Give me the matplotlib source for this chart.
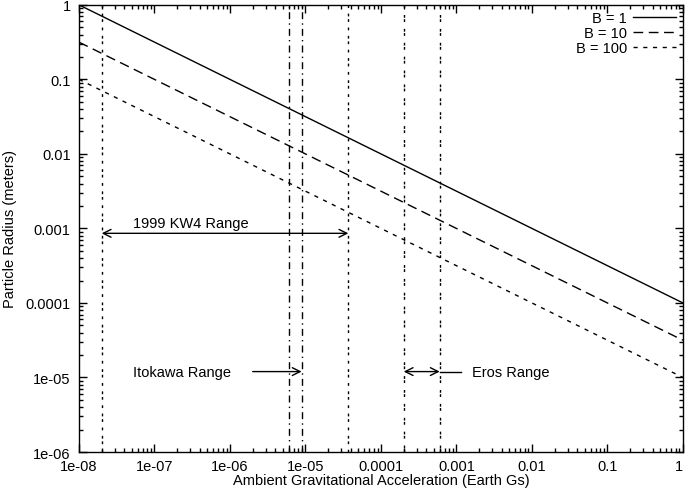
import numpy as np
import matplotlib
matplotlib.use("Agg")
import matplotlib.pyplot as plt
from matplotlib.ticker import LogLocator, FixedLocator

plt.rcParams['font.family'] = ['Liberation Sans', 'DejaVu Sans']
plt.rcParams['font.size'] = 10.5

# line end points (straight lines on log-log axes)
g_ends = [1e-8, 1.0]
r_b1 = [1.0, 1e-4]
r_b10 = [0.316, 3.16e-5]
r_b100 = [0.1, 1e-5]
labels = ["B = 1", "B = 10", "B = 100"]

# asteroid ranges (Earth Gs)
kw4_range = [2.0e-8, 3.7e-5]
itokawa_range = [6.0e-6, 8.9e-6]
eros_range = [2.0e-4, 6.0e-4]

xticks = [1e-8, 1e-7, 1e-6, 1e-5, 1e-4, 1e-3, 1e-2, 1e-1, 1]
xticklabels = ["1e-08", "1e-07", "1e-06", "1e-05", "0.0001", "0.001", "0.01", "0.1", "1"]
yticks = [1e-6, 1e-5, 1e-4, 1e-3, 1e-2, 1e-1, 1]
yticklabels = ["1e-06", "1e-05", "0.0001", "0.001", "0.01", "0.1", "1"]

fig = plt.figure(figsize=(6.85, 4.89), dpi=100)
ax = fig.add_axes([0.1153, 0.0736, 0.8817, 0.9144])

ax.plot(g_ends, r_b1, color="black", lw=1.0, label=labels[0])
ax.plot(g_ends, r_b10, color="black", lw=1.0, ls=(0, (7, 4)), label=labels[1])
ax.plot(g_ends, r_b100, color="black", lw=1.0, ls=(0, (3, 4)), label=labels[2])

kw4_ls = (0, (2, 4, 2, 2, 2, 4))
ito_ls = (0, (5, 3, 1, 3))
eros_ls = (0, (2, 1, 2, 5))
for g in kw4_range:
    ax.axvline(g, color="black", lw=1.0, ls=kw4_ls)
for g in itokawa_range:
    ax.axvline(g, color="black", lw=1.0, ls=ito_ls)
for g in eros_range:
    ax.axvline(g, color="black", lw=1.0, ls=eros_ls)

arrow_props = dict(arrowstyle="<->", color="black", lw=1.0, shrinkA=0, shrinkB=0,
                   mutation_scale=14)
ax.annotate("", xy=(kw4_range[0], 8.6e-4), xytext=(kw4_range[1], 8.6e-4),
            arrowprops=arrow_props)
ax.text(5.2e-8, 1.2e-3, "1999 KW4 Range", ha="left", va="center")

ax.annotate("", xy=(itokawa_range[1], 1.2e-5), xytext=(2.0e-6, 1.2e-5),
            arrowprops=dict(arrowstyle="->", color="black", lw=1.0, shrinkA=0,
                            shrinkB=0, mutation_scale=14))
ax.text(5.2e-8, 1.2e-5, "Itokawa Range", ha="left", va="center")

ax.annotate("", xy=(eros_range[0], 1.2e-5), xytext=(eros_range[1], 1.2e-5),
            arrowprops=arrow_props)
ax.plot([eros_range[1], 1.15e-3], [1.2e-5, 1.2e-5], color="black", lw=1.0)
ax.text(1.6e-3, 1.2e-5, "Eros Range", ha="left", va="center")

ax.set_xscale("log")
ax.set_yscale("log")
ax.set_xlim(1e-8, 1)
ax.set_ylim(1e-6, 1)
ax.xaxis.set_major_locator(FixedLocator(xticks))
ax.set_xticklabels(xticklabels)
ax.yaxis.set_major_locator(FixedLocator(yticks))
ax.set_yticklabels(yticklabels)
ax.xaxis.set_minor_locator(LogLocator(base=10, subs=np.arange(2, 10), numticks=20))
ax.yaxis.set_minor_locator(LogLocator(base=10, subs=np.arange(2, 10), numticks=20))
ax.tick_params(which="both", direction="in", top=True, right=True, width=1.0)
ax.tick_params(which="major", length=6, pad=6)
ax.tick_params(axis="x", which="major", pad=5)
ax.tick_params(which="minor", length=3)
for s in ax.spines.values():
    s.set_linewidth(1.0)
# keep the last x tick label inside the figure
ax.get_xticklabels()[-1].set_horizontalalignment("right")

ax.set_xlabel("Ambient Gravitational Acceleration (Earth Gs)", labelpad=0)
ax.set_ylabel("Particle Radius (meters)", labelpad=6)

ax.legend(loc="upper right", frameon=False, markerfirst=False, handlelength=3.0,
          labelspacing=0.05, borderaxespad=0.15, handletextpad=0.4,
          borderpad=0.3)

fig.savefig("out.png", dpi=100)
